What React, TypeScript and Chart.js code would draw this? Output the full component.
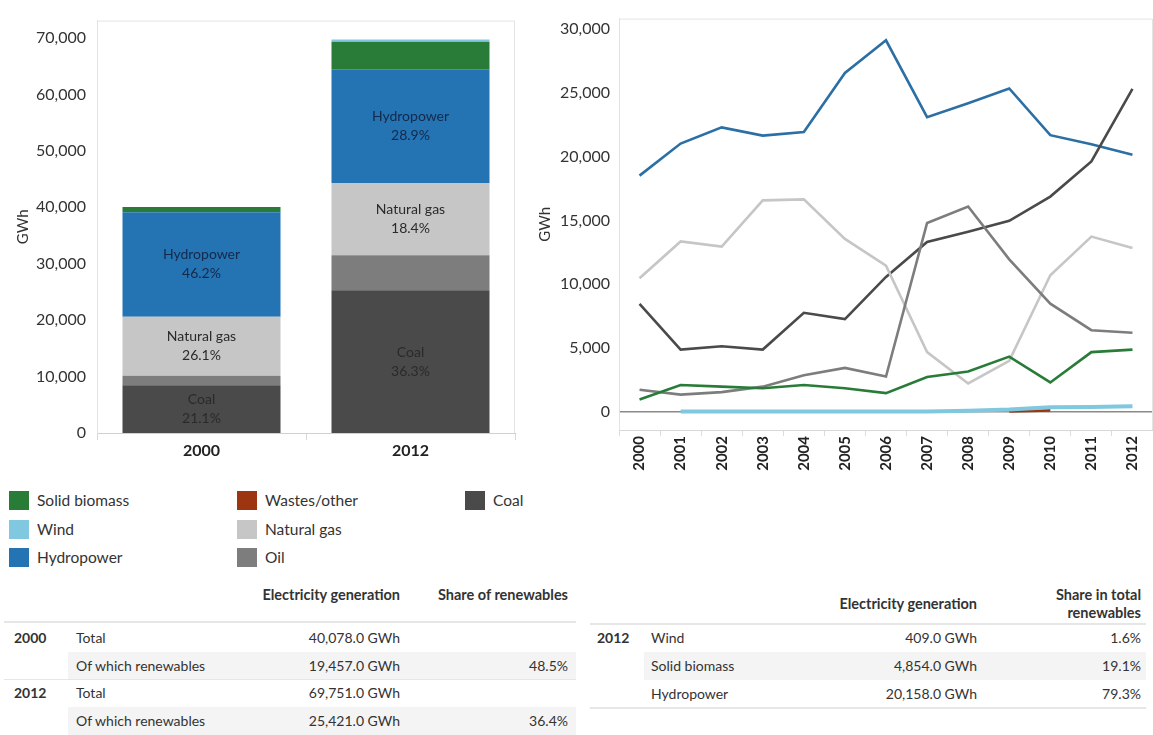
import React, { useEffect, useRef } from "react";
import { Chart, registerables } from "chart.js";

Chart.register(...registerables);

const FONT = "Lato, 'Open Sans', 'DejaVu Sans', sans-serif";

// ---------- Stacked bar data (GWh) ----------
const barCategories = ["2000", "2012"];
const barCoal = [8456, 25320];
const barOil = [1705, 6176];
const barGas = [10460, 12834];
const barHydro = [18516, 20158];
const barBiomass = [941, 4854];
const barWind = [0, 409];
const barWastes = [0, 0];
const barLabelled = ["Coal", "Natural gas", "Hydropower"];
const barTicks = [0, 10000, 20000, 30000, 40000, 50000, 60000, 70000];

// ---------- Line data (GWh) ----------
const years = ["2000", "2001", "2002", "2003", "2004", "2005", "2006", "2007", "2008", "2009", "2010", "2011", "2012"];
const lineHydro = [18516, 21030, 22300, 21660, 21940, 26580, 29140, 23100, 24200, 25360, 21690, 20980, 20158];
const lineGas = [10460, 13350, 12950, 16570, 16650, 13550, 11450, 4660, 2200, 3980, 10690, 13730, 12834];
const lineOil = [1705, 1320, 1520, 1950, 2840, 3420, 2740, 14800, 16090, 11940, 8460, 6380, 6176];
const lineCoal = [8456, 4860, 5120, 4860, 7750, 7250, 10560, 13300, 14110, 14970, 16870, 19630, 25320];
const lineBiomass = [941, 2080, 1950, 1820, 2080, 1820, 1440, 2710, 3140, 4310, 2280, 4660, 4854];
const lineWind = [null, 0, 0, 0, 0, 0, 0, 0, 50, 150, 330, 360, 409];
const lineWastes = [null, null, null, null, null, null, null, null, null, 0, 90, null, null];
const lineTicks = [0, 5000, 10000, 15000, 20000, 25000, 30000];

// ---------- Colours ----------
const C = {
  biomass: "#287c38",
  wind: "#80c8e0",
  hydro: "#2473b3",
  hydroLine: "#2c6fa4",
  wastes: "#9c3510",
  gas: "#c6c6c6",
  oil: "#7d7d7d",
  coal: "#4a4a4a",
};

// ---------- Tables ----------
const table1Header = ["Electricity generation", "Share of renewables"];
const table1Rows = [
  { year: "2000", label: "Total", value: "40,078.0 GWh", share: "" },
  { year: "", label: "Of which renewables", value: "19,457.0 GWh", share: "48.5%" },
  { year: "2012", label: "Total", value: "69,751.0 GWh", share: "" },
  { year: "", label: "Of which renewables", value: "25,421.0 GWh", share: "36.4%" },
];
const table2Rows = [
  { year: "2012", label: "Wind", value: "409.0 GWh", share: "1.6%" },
  { year: "", label: "Solid biomass", value: "4,854.0 GWh", share: "19.1%" },
  { year: "", label: "Hydropower", value: "20,158.0 GWh", share: "79.3%" },
];

const legendItems = [
  { label: "Solid biomass", color: C.biomass, col: 0, row: 0 },
  { label: "Wind", color: C.wind, col: 0, row: 1 },
  { label: "Hydropower", color: C.hydro, col: 0, row: 2 },
  { label: "Wastes/other", color: C.wastes, col: 1, row: 0 },
  { label: "Natural gas", color: C.gas, col: 1, row: 1 },
  { label: "Oil", color: C.oil, col: 1, row: 2 },
  { label: "Coal", color: C.coal, col: 2, row: 0 },
];

const fmt = (v: any) => Number(v).toLocaleString("en-US");

const framePlugin = {
  id: "frame",
  beforeDatasetsDraw(chart: any) {
    const { ctx, chartArea } = chart;
    const { left, top, right, bottom } = chartArea;
    ctx.save();
    ctx.strokeStyle = "#e4e4e4";
    ctx.lineWidth = 1;
    ctx.beginPath();
    ctx.moveTo(left, top + 0.5);
    ctx.lineTo(right - 0.5, top + 0.5);
    ctx.lineTo(right - 0.5, bottom);
    ctx.stroke();
    ctx.restore();
  },
};

const barLabelPlugin = {
  id: "barLabels",
  afterDatasetsDraw(chart: any) {
    const ctx = chart.ctx;
    const dsets = chart.data.datasets;
    ctx.save();
    ctx.font = `14px ${FONT}`;
    ctx.textAlign = "center";
    ctx.textBaseline = "middle";
    dsets.forEach((ds: any, di: number) => {
      if (!barLabelled.includes(ds.label)) return;
      const meta = chart.getDatasetMeta(di);
      meta.data.forEach((bar: any, i: number) => {
        const total = dsets.reduce((s: number, d: any) => s + (d.data[i] || 0), 0);
        const pct = ((ds.data[i] / total) * 100).toFixed(1) + "%";
        const { x, y, base } = bar.getProps(["x", "y", "base"], true);
        const cy = (y + base) / 2;
        ctx.fillStyle = ds.label === "Hydropower" ? "#15294a" : "#2a2a2a";
        ctx.fillText(ds.label, x, cy - 9.5);
        ctx.fillText(pct, x, cy + 9.5);
      });
    });
    ctx.restore();
  },
};

function BarChart() {
  const ref = useRef<HTMLCanvasElement>(null);
  useEffect(() => {
    const mk = (label: string, data: number[], color: string) => ({
      label,
      data,
      backgroundColor: color,
      borderWidth: 0,
      barPercentage: 0.756,
      categoryPercentage: 1,
    });
    const chart = new Chart(ref.current as HTMLCanvasElement, {
      type: "bar",
      data: {
        labels: barCategories,
        datasets: [
          mk("Coal", barCoal, C.coal),
          mk("Oil", barOil, C.oil),
          mk("Natural gas", barGas, C.gas),
          mk("Hydropower", barHydro, C.hydro),
          mk("Solid biomass", barBiomass, C.biomass),
          mk("Wind", barWind, C.wind),
          mk("Wastes/other", barWastes, C.wastes),
        ],
      },
      options: {
        animation: false,
        responsive: false,
        layout: { padding: { top: 8, right: 1, left: 0, bottom: 0 } },
        plugins: { legend: { display: false }, tooltip: { enabled: false } },
        scales: {
          x: {
            stacked: true,
            grid: { display: true, drawOnChartArea: false, offset: true, tickLength: 7, color: "#d8d8d8" },
            border: { color: "#d0d0d0" },
            ticks: { font: { family: FONT, size: 16, weight: "bold" }, color: "#222", padding: 1 },
            afterFit: (s: any) => { s.height = 37; },
          },
          y: {
            stacked: true,
            min: 0,
            max: 73100,
            afterBuildTicks: (s: any) => { s.ticks = barTicks.map((v) => ({ value: v })); },
            ticks: {
              font: { family: FONT, size: 16 },
              color: "#333",
              padding: 11,
              callback: (v: any) => fmt(v),
            },
            grid: { display: false, drawTicks: false },
            border: { color: "#e2e2e2" },
            title: { display: true, text: "GWh", font: { family: FONT, size: 15 }, color: "#333", padding: { top: 14, bottom: 0 } },
            afterFit: (s: any) => { s.width = 97; },
          },
        },
      } as any,
      plugins: [framePlugin, barLabelPlugin],
    });
    return () => chart.destroy();
  }, []);
  return <canvas ref={ref} width={516} height={470} style={{ position: "absolute", left: 0, top: 0 }} />;
}

function LineChart() {
  const ref = useRef<HTMLCanvasElement>(null);
  useEffect(() => {
    const mk = (label: string, data: (number | null)[], color: string, w = 2.6) => ({
      label,
      data,
      borderColor: color,
      backgroundColor: color,
      borderWidth: w,
      pointRadius: 0,
      tension: 0,
      fill: false,
      spanGaps: false,
    });
    const chart = new Chart(ref.current as HTMLCanvasElement, {
      type: "line",
      data: {
        labels: years,
        datasets: [
          mk("Wind", lineWind, C.wind, 4),
          mk("Wastes/other", lineWastes, C.wastes, 2.6),
          mk("Solid biomass", lineBiomass, C.biomass),
          mk("Oil", lineOil, C.oil),
          mk("Natural gas", lineGas, C.gas),
          mk("Coal", lineCoal, C.coal),
          mk("Hydropower", lineHydro, C.hydroLine),
        ],
      },
      options: {
        animation: false,
        responsive: false,
        layout: { padding: { top: 8, right: 0, left: 0, bottom: 0 } },
        plugins: { legend: { display: false }, tooltip: { enabled: false } },
        scales: {
          x: {
            offset: true,
            grid: { display: true, drawOnChartArea: false, offset: true, tickLength: 6, color: "#dcdcdc" },
            border: { color: "#d8d8d8" },
            ticks: {
              autoSkip: false,
              minRotation: 90,
              maxRotation: 90,
              padding: 0,
              font: { family: FONT, size: 15, weight: "bold" },
              color: "#222",
            },
            afterFit: (s: any) => { s.height = 60; },
          },
          y: {
            min: -1454,
            max: 30842,
            afterBuildTicks: (s: any) => { s.ticks = lineTicks.map((v) => ({ value: v })); },
            ticks: {
              font: { family: FONT, size: 16 },
              color: "#333",
              padding: 9,
              callback: (v: any) => fmt(v),
            },
            grid: {
              drawTicks: false,
              lineWidth: 1.5,
              color: (ctx: any) => (ctx.tick && ctx.tick.value === 0 ? "#8a8a8a" : "rgba(0,0,0,0)"),
            },
            border: { color: "#e2e2e2" },
            title: { display: true, text: "GWh", font: { family: FONT, size: 15 }, color: "#333", padding: { top: 11, bottom: 0 } },
            afterFit: (s: any) => { s.width = 94; },
          },
        },
      } as any,
      plugins: [framePlugin],
    });
    return () => chart.destroy();
  }, []);
  return <canvas ref={ref} width={628} height={490} style={{ position: "absolute", left: 525, top: 0 }} />;
}

const txt: React.CSSProperties = { position: "absolute", whiteSpace: "nowrap", fontFamily: FONT, color: "#333" };

function Legend() {
  const colX = [9, 237, 465];
  return (
    <>
      {legendItems.map((it) => {
        const top = 491 + it.row * 28.5;
        return (
          <React.Fragment key={it.label}>
            <div style={{ position: "absolute", left: colX[it.col], top, width: 20, height: 19, background: it.color }} />
            <div style={{ ...txt, left: colX[it.col] + 28, top: top - 1, fontSize: 15.5, lineHeight: "21px" }}>{it.label}</div>
          </React.Fragment>
        );
      })}
    </>
  );
}

function Tables() {
  const rowH = 28;
  const hdr: React.CSSProperties = { ...txt, fontSize: 14.5, fontWeight: 700, color: "#333" };
  const cell: React.CSSProperties = { ...txt, fontSize: 14, lineHeight: `${rowH}px` };
  const t1Top = 624;
  const t2Top = 624;
  return (
    <>
      {/* table 1 */}
      <div style={{ ...hdr, right: 1153 - 400, top: 586, lineHeight: "18px" }}>{table1Header[0]}</div>
      <div style={{ ...hdr, right: 1153 - 568, top: 586, lineHeight: "18px" }}>{table1Header[1]}</div>
      <div style={{ position: "absolute", left: 4, width: 572, top: 621, height: 2, background: "#e6e6e6" }} />
      {table1Rows.map((r, i) => {
        const top = t1Top + i * rowH - (i >= 2 ? 1 : 0);
        return (
          <React.Fragment key={"t1" + i}>
            {i % 2 === 1 && <div style={{ position: "absolute", left: 68, width: 508, top, height: rowH, background: "#f4f4f4" }} />}
            {r.year && <div style={{ ...cell, left: 14, top, fontWeight: 700, fontSize: 14 }}>{r.year}</div>}
            <div style={{ ...cell, left: 76, top }}>{r.label}</div>
            <div style={{ ...cell, right: 1153 - 400, top }}>{r.value}</div>
            {r.share && <div style={{ ...cell, right: 1153 - 568, top }}>{r.share}</div>}
          </React.Fragment>
        );
      })}
      <div style={{ position: "absolute", left: 4, width: 572, top: 679, height: 1, background: "#e6e6e6" }} />

      {/* table 2 */}
      <div style={{ ...hdr, right: 1153 - 977, top: 595, lineHeight: "18px" }}>Electricity generation</div>
      <div style={{ ...hdr, right: 1153 - 1141, top: 586, lineHeight: "18px", textAlign: "right" }}>
        Share in total
        <br />
        renewables
      </div>
      <div style={{ position: "absolute", left: 590, width: 556, top: 623, height: 2, background: "#e6e6e6" }} />
      {table2Rows.map((r, i) => {
        const top = t2Top + i * rowH;
        return (
          <React.Fragment key={"t2" + i}>
            {i === 1 && <div style={{ position: "absolute", left: 644, width: 502, top, height: rowH, background: "#f4f4f4" }} />}
            {r.year && <div style={{ ...cell, left: 597, top, fontWeight: 700, fontSize: 14 }}>{r.year}</div>}
            <div style={{ ...cell, left: 651, top }}>{r.label}</div>
            <div style={{ ...cell, right: 1153 - 977, top }}>{r.value}</div>
            <div style={{ ...cell, right: 1153 - 1141, top }}>{r.share}</div>
          </React.Fragment>
        );
      })}
      <div style={{ position: "absolute", left: 590, width: 556, top: 707, height: 2, background: "#e6e6e6" }} />
    </>
  );
}

export default function App() {
  return (
    <div style={{ position: "absolute", left: 0, top: 0, width: 1153, height: 735, background: "#fff", overflow: "hidden" }}>
      <BarChart />
      <LineChart />
      <Legend />
      <Tables />
    </div>
  );
}
